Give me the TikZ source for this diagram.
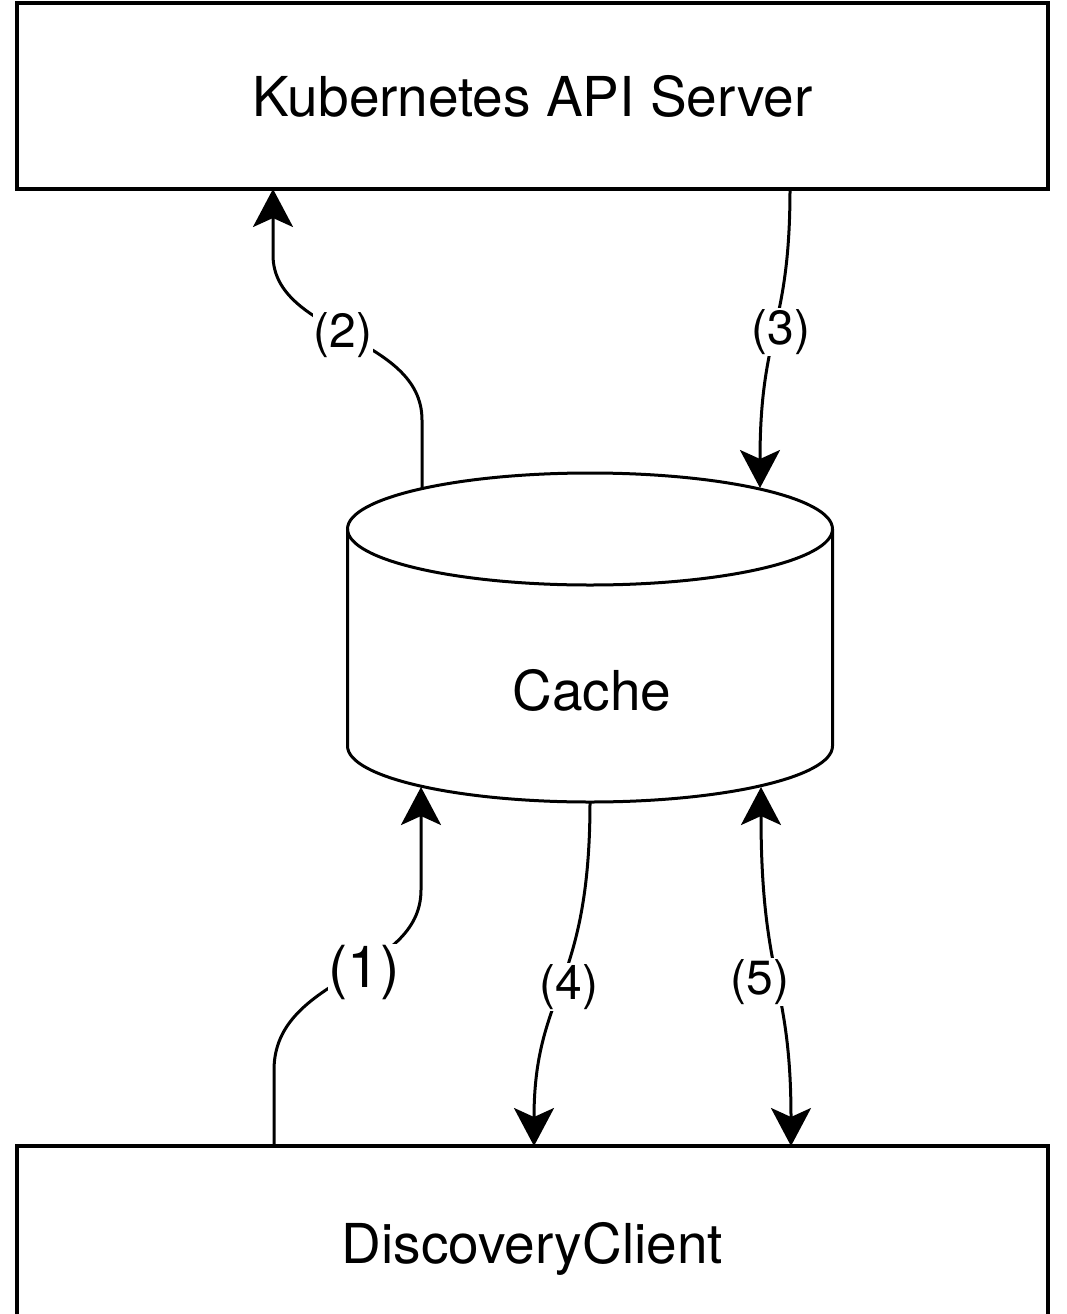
\documentclass[tikz,border=0pt]{standalone}
\usepackage{fontspec}
\setmainfont{TeX Gyre Heros}
\usetikzlibrary{arrows.meta}
\begin{document}
\begin{tikzpicture}[x=1pt,y=-1pt,
  box/.style={draw, line width=3.5pt, minimum width=1031pt, inner sep=0pt,
    font=\fontsize{55}{60}\selectfont, text height=40pt, text depth=0pt},
  cyl/.style={line width=3pt},
  conn/.style={line width=3pt},
  arrowend/.style={-{Stealth[length=38pt,width=40pt,inset=9pt]}},
  arrowboth/.style={{Stealth[length=38pt,width=40pt,inset=9pt]}-{Stealth[length=38pt,width=40pt,inset=9pt]}},
  lbl/.style={fill=white, inner sep=1pt, font=\fontsize{48}{52}\selectfont},
  biglbl/.style={lbl, font=\fontsize{58}{62}\selectfont}]
\useasboundingbox (0,0) rectangle (1066,1314);
\clip (0,0) rectangle (1066,1314);
\fill[white] (0,0) rectangle (1066,1314);

% boxes
\node[box, minimum height=186pt] (api) at (532.5,96) {Kubernetes API Server};
\node[box, minimum height=194pt] (dc) at (532.5,1243) {DiscoveryClient};

% cylinder
\draw[cyl] (347.5,529) -- (347.5,746)
  arc[start angle=180, end angle=360, x radius=242.5pt, y radius=56pt] -- (832.5,529);
\draw[cyl] (590,529) ellipse [x radius=242.5pt, y radius=56pt];
\node[font=\fontsize{55}{60}\selectfont, text height=40pt, text depth=0pt, inner sep=0pt] (cache) at (592,690) {Cache};

% connector end points
\coordinate (a2) at (273,189);
\coordinate (a3) at (790,189);
\coordinate (c2) at (422,488);
\coordinate (c3) at (760,488);
\coordinate (c1) at (421,787);
\coordinate (c4) at (590,802);
\coordinate (c5) at (761,787);
\coordinate (d1) at (274,1146);
\coordinate (d4) at (534,1146);
\coordinate (d5) at (791,1146);

% connectors
\draw[conn, arrowend] (c2) -- (422,420) .. controls (422,335) and (273,335) .. (273,255) -- (a2);
\draw[conn, arrowend] (a3) .. controls (790,330) and (760,330) .. (c3);
\draw[conn, arrowend] (d1) -- (274,1070) .. controls (274,975) and (421,975) .. (421,890) -- (c1);
\draw[conn, arrowend] (c4) .. controls (590,990) and (534,990) .. (d4);
\draw[conn, arrowboth] (c5) .. controls (761,980) and (791,980) .. (d5);

% labels
\node[lbl] (l2) at (343,335) {(2)};
\node[lbl] (l3) at (781,332) {(3)};
\node[biglbl] (l1) at (364,972) {(1)};
\node[lbl] (l4) at (569,987) {(4)};
\node[lbl] (l5) at (760,982) {(5)};
\end{tikzpicture}
\end{document}
